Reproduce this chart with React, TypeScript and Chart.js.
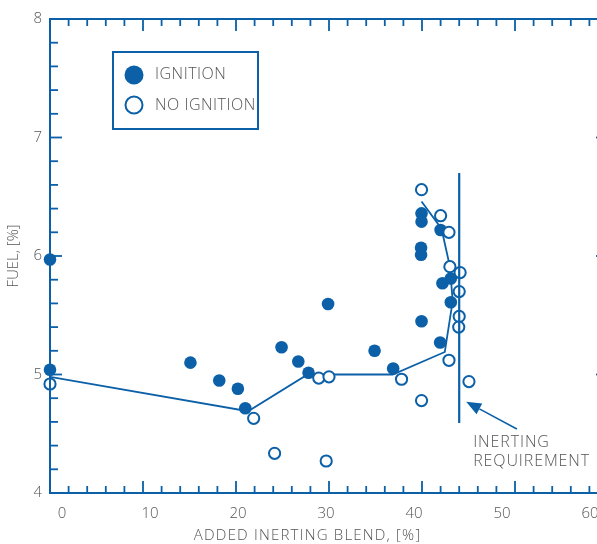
import React, { useEffect, useRef } from 'react';
import { Chart, registerables } from 'chart.js';

Chart.register(...registerables);

const BLUE = '#0b60a8';
const GRAY = '#555555';
const FONT = '"Open Sans", Roboto, "Liberation Sans", Arial, sans-serif';

// Axis ranges
const X_MIN = 0;
const X_MAX = 60;
const Y_MIN = 4;
const Y_MAX = 8;
const X_MINOR_STEP = 2;
const X_MAJOR_STEP = 10;
const Y_MINOR_STEP = 0.2;
const Y_MAJOR_STEP = 1;

// IGNITION (filled)
const ignitionX = [0, 0, 15.1, 18.2, 20.2, 21.0, 24.9, 26.7, 27.8, 29.9, 34.9, 36.9, 39.95, 39.95, 39.9, 39.9, 39.95, 42.0, 42.2, 43.1, 43.1, 41.95];
const ignitionY = [5.97, 5.04, 5.10, 4.95, 4.88, 4.715, 5.23, 5.11, 5.015, 5.595, 5.20, 5.05, 6.36, 6.29, 6.07, 6.01, 5.45, 6.22, 5.77, 5.81, 5.61, 5.27];

// NO IGNITION (open)
const noIgnitionX = [0, 21.9, 24.15, 28.9, 30.0, 29.7, 37.8, 39.95, 39.95, 42.0, 42.9, 43.0, 44.1, 44.0, 44.0, 43.95, 42.9, 45.05];
const noIgnitionY = [4.92, 4.63, 4.335, 4.97, 4.98, 4.27, 4.96, 4.78, 6.56, 6.34, 6.20, 5.91, 5.86, 5.70, 5.49, 5.40, 5.12, 4.94];

// Ignition boundary line
const boundaryX = [0, 21.3, 27.7, 36.85, 42.45, 43.3, 43.0, 42.1, 39.95];
const boundaryY = [4.98, 4.69, 5.0, 5.0, 5.19, 5.62, 5.91, 6.23, 6.46];

// Inerting requirement vertical line
const requirementX = [44.0, 44.0];
const requirementY = [6.70, 4.59];

// Annotation
const annotationLines = ['INERTING', 'REQUIREMENT'];
const annotationX = 45.5;
const annotationY = [4.43, 4.27];
const arrowFrom = [50.2, 4.54];
const arrowTo = [44.75, 4.77];

// Tick-label axis (labels sit slightly off the tick marks, as in the original)
const LABEL_AXIS_MIN = -1.364;
const LABEL_AXIS_MAX = 62.05;

const xTitle = 'ADDED INERTING BLEND, [%]';
const yTitle = 'FUEL, [%]';
const legendLabels = ['IGNITION', 'NO IGNITION'];

const toPoints = (xs: number[], ys: number[]) => xs.map((x, i) => ({ x, y: ys[i] }));

const framePlugin = {
  id: 'frameTicks',
  afterDatasetsDraw(chart: any) {
    const ctx = chart.ctx;
    const ca = chart.chartArea;
    const left = ca.left;
    const right = ca.right;
    const top = ca.top;
    const bottom = ca.bottom;
    const xs = chart.scales.x;
    const ys = chart.scales.y;
    ctx.save();
    ctx.fillStyle = BLUE;
    // frame
    ctx.fillRect(left - 1, top - 1, right - left + 2, 2);
    ctx.fillRect(left - 1, bottom - 1, right - left + 2, 2);
    ctx.fillRect(left - 1, top - 1, 2, bottom - top + 2);
    ctx.fillRect(right - 1, top - 1, 2, bottom - top + 2);
    const tw = 1.8;
    const nx = Math.round((X_MAX - X_MIN) / X_MINOR_STEP);
    const xPerMajor = Math.round(X_MAJOR_STEP / X_MINOR_STEP);
    for (let i = 0; i <= nx; i++) {
      const v = X_MIN + i * X_MINOR_STEP;
      const px = xs.getPixelForValue(v);
      const len = i % xPerMajor === 0 ? 12 : 7;
      ctx.fillRect(px - tw / 2, bottom - len, tw, len);
      ctx.fillRect(px - tw / 2, top, tw, len);
    }
    const ny = Math.round((Y_MAX - Y_MIN) / Y_MINOR_STEP);
    const yPerMajor = Math.round(Y_MAJOR_STEP / Y_MINOR_STEP);
    for (let i = 0; i <= ny; i++) {
      const v = Y_MIN + i * Y_MINOR_STEP;
      const py = ys.getPixelForValue(v);
      const len = i % yPerMajor === 0 ? 12 : 8;
      ctx.fillRect(left, py - tw / 2, len, tw);
      ctx.fillRect(right - len, py - tw / 2, len, tw);
    }
    ctx.restore();
  },
  afterDraw(chart: any) {
    const { ctx, chartArea } = chart;
    const xs = chart.scales.x;
    const ys = chart.scales.y;
    ctx.save();
    // Legend
    const bx = chartArea.left + 63;
    const by = chartArea.top + 33;
    ctx.strokeStyle = BLUE;
    ctx.lineWidth = 2;
    ctx.strokeRect(bx, by, 145, 77);
    const ds = chart.data.datasets;
    ctx.beginPath();
    ctx.fillStyle = ds[0].backgroundColor;
    ctx.arc(bx + 21, by + 23, 9.5, 0, Math.PI * 2);
    ctx.fill();
    ctx.beginPath();
    ctx.fillStyle = '#ffffff';
    ctx.strokeStyle = ds[1].borderColor;
    ctx.lineWidth = 2;
    ctx.arc(bx + 21, by + 53, 8.5, 0, Math.PI * 2);
    ctx.fill();
    ctx.stroke();
    ctx.fillStyle = GRAY;
    ctx.font = `300 16px ${FONT}`;
    ctx.textAlign = 'left';
    ctx.textBaseline = 'middle';
    try { ctx.letterSpacing = '0.5px'; } catch (e) {}
    ctx.fillText(ds[0].label, bx + 42, by + 22);
    ctx.fillText(ds[1].label, bx + 42, by + 53);

    // Annotation text
    try { ctx.letterSpacing = '0.9px'; } catch (e) {}
    const tx = xs.getPixelForValue(annotationX);
    annotationLines.forEach((t, i) => {
      ctx.fillText(t, tx, ys.getPixelForValue(annotationY[i]));
    });

    // Arrow
    const x0 = xs.getPixelForValue(arrowFrom[0]);
    const y0 = ys.getPixelForValue(arrowFrom[1]);
    const x1 = xs.getPixelForValue(arrowTo[0]);
    const y1 = ys.getPixelForValue(arrowTo[1]);
    const ang = Math.atan2(y1 - y0, x1 - x0);
    const headLen = 15;
    const headW = 6;
    const hx = x1 - headLen * Math.cos(ang);
    const hy = y1 - headLen * Math.sin(ang);
    ctx.strokeStyle = BLUE;
    ctx.lineWidth = 1.6;
    ctx.beginPath();
    ctx.moveTo(x0, y0);
    ctx.lineTo(hx, hy);
    ctx.stroke();
    ctx.fillStyle = BLUE;
    ctx.beginPath();
    ctx.moveTo(x1, y1);
    ctx.lineTo(hx + headW * Math.sin(ang), hy - headW * Math.cos(ang));
    ctx.lineTo(hx - headW * Math.sin(ang), hy + headW * Math.cos(ang));
    ctx.closePath();
    ctx.fill();

    // X axis title
    ctx.fillStyle = GRAY;
    ctx.font = `300 15px ${FONT}`;
    try { ctx.letterSpacing = '1.2px'; } catch (e) {}
    ctx.textAlign = 'center';
    ctx.textBaseline = 'middle';
    ctx.fillText(xTitle, xs.getPixelForValue(27.7), chart.height - 8);
    ctx.restore();
  },
};

export default function App() {
  const ref = useRef<HTMLCanvasElement | null>(null);

  useEffect(() => {
    if (!ref.current) return;
    const chart = new Chart(ref.current, {
      type: 'scatter',
      data: {
        datasets: [
          {
            label: legendLabels[0],
            data: toPoints(ignitionX, ignitionY),
            backgroundColor: BLUE,
            borderColor: BLUE,
            borderWidth: 0,
            pointRadius: 6.3,
            clip: false,
            order: 3,
          },
          {
            label: legendLabels[1],
            data: toPoints(noIgnitionX, noIgnitionY),
            backgroundColor: '#ffffff',
            borderColor: BLUE,
            borderWidth: 2,
            pointRadius: 5.6,
            clip: false,
            order: 2,
          },
          {
            label: 'boundary',
            data: toPoints(boundaryX, boundaryY),
            showLine: true,
            borderColor: BLUE,
            borderWidth: 1.8,
            pointRadius: 0,
            order: 4,
          },
          {
            label: 'requirement',
            data: toPoints(requirementX, requirementY),
            showLine: true,
            borderColor: BLUE,
            borderWidth: 2.2,
            pointRadius: 0,
            order: 1,
          },
        ],
      },
      options: {
        responsive: false,
        animation: false,
        devicePixelRatio: 1,
        layout: { padding: { left: 0, top: 19, right: 12, bottom: 0 } },
        plugins: { legend: { display: false }, tooltip: { enabled: false } },
        scales: {
          x: {
            type: 'linear',
            min: X_MIN,
            max: X_MAX,
            display: false,
          },
          xl: {
            type: 'linear',
            position: 'bottom',
            min: LABEL_AXIS_MIN,
            max: LABEL_AXIS_MAX,
            grid: { display: false, drawTicks: false },
            border: { display: false },
            ticks: {
              stepSize: X_MAJOR_STEP,
              includeBounds: false,
              padding: 12,
              color: GRAY,
              font: { family: FONT, size: 15, weight: '300' },
              maxRotation: 0,
              autoSkip: false,
            },
            afterFit: (s: any) => {
              s.height = 51;
            },
          },
          y: {
            type: 'linear',
            min: Y_MIN,
            max: Y_MAX,
            grid: { display: false, drawTicks: false },
            border: { display: false },
            ticks: {
              stepSize: Y_MAJOR_STEP,
              padding: 8,
              color: GRAY,
              font: { family: FONT, size: 15, weight: '300' },
            },
            title: {
              display: true,
              text: yTitle,
              color: GRAY,
              font: { family: FONT, size: 15, weight: '300' },
              padding: { top: 5, bottom: 0 },
            },
            afterFit: (s: any) => {
              s.width = 50;
            },
          },
        },
      } as any,
      plugins: [framePlugin],
    });
    return () => chart.destroy();
  }, []);

  return (
    <div
      style={{
        position: 'fixed',
        left: 0,
        top: 0,
        width: 597,
        height: 544,
        overflow: 'hidden',
        background: '#ffffff',
      }}
    >
      <canvas ref={ref} width={620} height={544} style={{ display: 'block', width: 620, height: 544 }} />
    </div>
  );
}
